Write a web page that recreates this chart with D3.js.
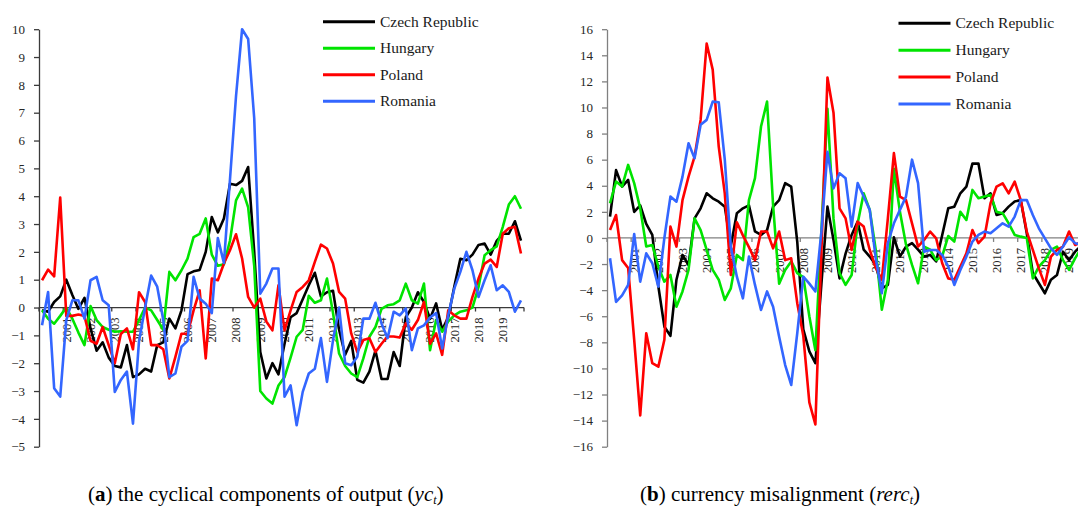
<!DOCTYPE html>
<html>
<head>
<meta charset="utf-8">
<script src="https://cdn.jsdelivr.net/npm/d3@7"></script>
<style>
  body { margin: 0; background: #fff; }
  svg text { font-family: "Liberation Serif", "Times New Roman", serif; }
</style>
</head>
<body>
<svg id="chart" width="1078" height="513"></svg>
<script>
// quarterly categories 2000Q1 .. 2019Q4
var years = d3.range(2000, 2020);
var quarters = [];
years.forEach(function (y) { ["Q1", "Q2", "Q3", "Q4"].forEach(function (q) { quarters.push(y + q); }); });

// year labels shown under the zero line (at the first quarter)
var yearLabels = ["2001", "2002", "2003", "2004", "2005", "2006", "2007", "2008", "2009", "2010",
                  "2011", "2012", "2013", "2014", "2015", "2016", "2017", "2018", "2019"];

var countries = ["Czech Republic", "Hungary", "Poland", "Romania"];
var colors = ["#000000", "#00e400", "#ff0000", "#3366ff"];

// (a) cyclical components of output
var ycCZ = [-0.1,-0.15,0.2,0.4,1.0,0.45,-0.05,0.35,-0.75,-1.55,-1.25,-1.8,-2.1,-2.15,-1.35,-2.5,-2.4,-2.2,-2.3,-1.35,
            -1.25,-0.4,-0.75,-0.1,1.2,1.3,1.35,2.0,3.25,2.7,3.2,4.45,4.4,4.55,5.05,2.0,-1.6,-2.55,-2.0,-2.4,
            -1.3,-0.35,-0.2,0.3,0.8,1.25,0.4,0.55,0.6,-0.8,-1.7,-1.2,-2.6,-2.7,-2.3,-1.55,-2.57,-2.57,-1.6,-2.1,
            -0.35,0.0,0.55,0.2,-0.4,0.15,-0.8,-0.35,0.75,1.75,1.7,1.9,2.25,2.3,1.9,2.4,2.65,2.65,3.1,2.4];
var ycHU = [-0.1,-0.4,-0.58,-0.3,0.0,-0.4,-0.9,-1.35,0.05,-0.45,-0.7,-0.8,-0.87,-0.85,-0.87,-0.87,-0.45,0.0,-0.1,-0.45,
            -0.8,1.28,0.98,1.34,1.76,2.53,2.65,3.2,1.9,1.5,1.55,2.4,3.85,4.27,3.6,1.5,-3.0,-3.27,-3.45,-2.8,
            -2.5,-1.8,-1.05,-0.8,0.42,0.17,0.26,1.04,-0.2,-1.65,-2.1,-2.37,-2.5,-1.83,-1.05,-0.7,-0.05,0.08,0.12,0.26,
            0.86,0.26,0.14,0.86,-1.53,-0.45,-0.87,-0.5,-0.28,-0.15,-0.1,0.0,0.74,1.88,2.06,2.2,2.9,3.7,4.0,3.55];
var ycPL = [0.98,1.36,1.12,3.95,-0.3,-0.3,-0.25,-0.3,-1.2,-1.3,-0.7,-1.35,-2.0,-0.95,-0.75,-1.5,0.55,0.2,-1.35,-1.35,
            -1.5,-2.55,-1.77,-0.94,-0.94,-0.1,0.62,-1.83,1.04,0.98,1.58,2.06,2.63,1.76,0.38,0.0,0.32,-0.5,-0.82,0.8,
            -0.82,-0.1,0.56,0.74,0.98,1.64,2.26,2.12,1.58,0.56,0.32,-0.93,-1.6,-1.17,-1.1,-1.6,-1.3,-1.04,-1.04,-1.08,
            -0.57,-0.8,-0.45,0.2,-1.3,-0.93,-1.7,-0.1,-0.28,-0.4,-0.4,0.38,1.04,1.58,1.72,1.46,2.65,2.85,2.9,1.94];
var ycRO = [-0.64,0.56,-2.9,-3.2,-0.45,0.26,0.26,-0.4,0.98,1.1,0.26,0.08,-3.03,-2.6,-2.3,-4.17,-1.2,0.0,1.15,0.75,
            -0.45,-2.5,-2.37,-1.41,-1.2,1.1,0.32,0.14,-0.2,2.5,1.6,4.6,7.6,10.0,9.65,6.8,0.5,0.86,1.4,1.4,
            -3.2,-2.8,-4.23,-3.03,-2.37,-2.2,-1.1,-2.67,-1.17,0.0,-2.0,-2.07,-1.77,-0.4,-0.4,0.17,-0.57,-1.1,-0.15,-0.28,
            -0.03,-1.53,-0.75,-0.64,-0.36,-0.2,-1.47,-0.28,0.68,1.28,2.0,1.34,0.38,0.98,1.52,0.62,0.8,0.56,-0.15,0.26];

// (b) currency misalignment
var rercCZ = [1.64,5.2,3.94,4.45,2.0,2.5,1.07,0.23,-3.7,-6.8,-7.5,-3.2,-1.3,-2.07,1.5,2.27,3.42,3.04,2.78,2.4,
              -0.6,1.9,2.27,2.5,0.5,0.23,0.6,2.4,2.9,4.2,3.94,-0.3,-7.0,-8.7,-9.6,-3.5,2.4,-0.15,-3.1,-1.2,
              0.23,1.25,-0.9,-1.43,-2.07,-3.86,-3.6,0.05,-1.43,-0.66,-0.4,-0.9,-1.43,-1.3,-1.8,0.23,2.27,2.4,3.42,3.94,
              5.7,5.7,3.04,3.42,1.76,1.9,2.4,2.8,2.9,0.36,-2.7,-3.47,-4.24,-3.2,-2.84,-1.05,-1.7,-1.05,-0.6,-0.2];
var rercHU = [2.66,4.32,3.94,5.6,4.2,2.27,-0.66,-0.54,-2.2,-3.35,-2.84,-5.27,-4.1,-2.45,1.5,0.6,-0.92,-2.45,-3.2,-4.75,
              -3.86,-1.3,-1.7,2.9,4.58,8.54,10.45,2.5,-3.5,-2.45,-1.8,-2.7,-3.0,-6.0,-8.6,0.5,9.9,1.5,-2.7,-3.6,
              -2.84,1.12,3.42,2.15,-0.92,-5.5,-3.2,5.3,2.0,-0.5,-2.07,-3.47,-0.66,-0.9,-1.7,-1.4,0.15,-0.28,2.0,1.38,
              3.68,3.04,3.17,3.3,2.0,1.9,1.12,0.23,0.1,0.0,-3.1,-2.2,-1.7,-0.92,-0.66,-1.7,-2.45,-1.56,-0.8,-0.3];
var rercPL = [0.61,1.76,-1.7,-2.3,-7.8,-13.6,-7.3,-9.6,-9.87,-7.8,0.87,-0.66,2.9,4.7,6.24,9.05,14.9,12.9,7.0,3.42,
              -2.84,1.2,0.2,-0.7,-1.7,0.49,0.49,-0.8,0.49,-1.7,-1.56,-5.0,-7.5,-12.6,-14.3,-1.0,12.3,9.6,2.27,1.5,
              -0.92,1.25,0.87,-0.92,-2.3,-3.2,1.5,6.5,3.17,2.9,1.12,-0.66,-0.15,0.49,-0.03,-1.94,-3.1,-3.2,-2.2,-1.18,
              0.61,-0.4,0.1,2.66,3.94,4.19,3.42,4.32,2.9,0.49,-0.92,-2.33,-3.6,-1.43,-0.92,-0.66,0.49,-0.54,-0.3,0.1];
var rercRO = [-1.56,-4.9,-4.4,-3.6,0.3,-3.35,-1.18,-1.94,-3.73,0.0,3.17,2.78,4.7,7.26,6.1,8.67,9.05,10.45,10.4,6.0,
              -0.66,-2.97,-4.63,-1.43,-3.6,-5.52,-4.1,-5.27,-7.57,-9.74,-11.27,-7.3,-2.97,-3.5,-4.1,0.5,6.6,3.8,4.96,4.57,
              0.87,4.2,3.17,2.15,-1.56,-4.24,-0.4,1.12,2.15,3.17,6.0,4.2,-1.05,-0.92,-0.92,-1.3,-2.2,-3.6,-2.45,-1.43,
              -0.28,0.23,0.49,0.36,0.74,1.12,0.87,1.64,2.9,2.9,1.76,0.74,-0.03,-0.8,-1.3,-0.66,0.05,-0.4,-0.5,-0.3];

var svg = d3.select("#chart");

function drawPanel(p) {
  var g = svg.append("g");

  // band scale: one slot per quarter, points at slot centres
  var x = d3.scaleBand().domain(quarters).range([p.left, p.right]);
  var bw = x.bandwidth();
  var y = d3.scaleLinear().domain(p.domain).range([446.7, 29.2]);
  var y0 = y(0);

  // y axis
  var yAxis = g.append("g")
    .attr("transform", "translate(" + p.left + ",0)")
    .call(d3.axisLeft(y).tickValues(p.yticks).tickSize(5).tickSizeOuter(0).tickPadding(9));
  yAxis.attr("font-family", null);
  yAxis.select(".domain").attr("stroke", p.axisColor).attr("stroke-width", 1.3);
  yAxis.selectAll(".tick line").attr("stroke", p.axisColor).attr("stroke-width", 1.3);
  yAxis.selectAll(".tick text")
    .attr("fill", "#262626")
    .style("font-family", "'Liberation Serif', serif")
    .style("font-size", "13px");

  // x axis along zero
  g.append("line")
    .attr("x1", p.left).attr("x2", p.right)
    .attr("y1", y0).attr("y2", y0)
    .attr("stroke", p.axisColor).attr("stroke-width", 1.3);

  var tickIdx = d3.range(0, quarters.length + 1, 4);
  g.selectAll(".xtick").data(tickIdx).enter().append("line")
    .attr("x1", function (d) { return d < quarters.length ? x(quarters[d]) : p.right; })
    .attr("x2", function (d) { return d < quarters.length ? x(quarters[d]) : p.right; })
    .attr("y1", y0).attr("y2", y0 + 4)
    .attr("stroke", p.axisColor).attr("stroke-width", 1.3);

  g.selectAll(".xlab").data(yearLabels).enter().append("text")
    .attr("transform", function (d) {
      return "translate(" + (x(d + "Q1") + bw / 2) + "," + (y0 + 10) + ") rotate(-90)";
    })
    .attr("text-anchor", "end")
    .attr("dy", "0.35em")
    .attr("fill", "#262626")
    .style("font-size", "12.5px")
    .text(function (d) { return d; });

  // series
  var line = d3.line()
    .x(function (d, i) { return x(quarters[i]) + bw / 2; })
    .y(function (d) { return y(d); });

  p.series.forEach(function (s, k) {
    g.append("path")
      .datum(s)
      .attr("fill", "none")
      .attr("stroke", colors[k])
      .attr("stroke-width", 2.6)
      .attr("stroke-linejoin", "round")
      .attr("d", line);
  });

  // legend
  var lg = g.append("g");
  countries.forEach(function (c, k) {
    var ly = p.legY + k * p.legStep;
    lg.append("line")
      .attr("x1", p.legX).attr("x2", p.legX + 52)
      .attr("y1", ly).attr("y2", ly)
      .attr("stroke", colors[k]).attr("stroke-width", 3);
    lg.append("text")
      .attr("x", p.legX + 57).attr("y", ly)
      .attr("dy", "0.33em")
      .attr("fill", "#1a1a1a")
      .style("font-size", "15.5px")
      .text(c);
  });

  // caption
  var cap = svg.append("text")
    .attr("x", p.capX).attr("y", 501)
    .attr("fill", "#000")
    .style("font-size", "21px");
  cap.append("tspan").text("(");
  cap.append("tspan").attr("font-weight", "bold").text(p.capLetter);
  cap.append("tspan").text(") " + p.capText + " (");
  cap.append("tspan").attr("font-style", "italic").text(p.capVar);
  cap.append("tspan").attr("font-style", "italic").attr("dy", 3).style("font-size", "12px").text("t");
  cap.append("tspan").attr("dy", -3).text(")");
}

drawPanel({
  left: 39, right: 524,
  domain: [-5, 10], yticks: d3.range(-5, 11, 1),
  axisColor: "#3a3a3a",
  series: [ycCZ, ycHU, ycPL, ycRO],
  legX: 323, legY: 21.7, legStep: 26.5,
  capX: 88, capLetter: "a", capText: "the cyclical components of output", capVar: "yc"
});

drawPanel({
  left: 607, right: 607 + 80 * 6.04,
  domain: [-16, 16], yticks: d3.range(-16, 17, 2),
  axisColor: "#808080",
  series: [rercCZ, rercHU, rercPL, rercRO],
  legX: 898.5, legY: 23.3, legStep: 26.9,
  capX: 640, capLetter: "b", capText: "currency misalignment", capVar: "rerc"
});
</script>
</body>
</html>
